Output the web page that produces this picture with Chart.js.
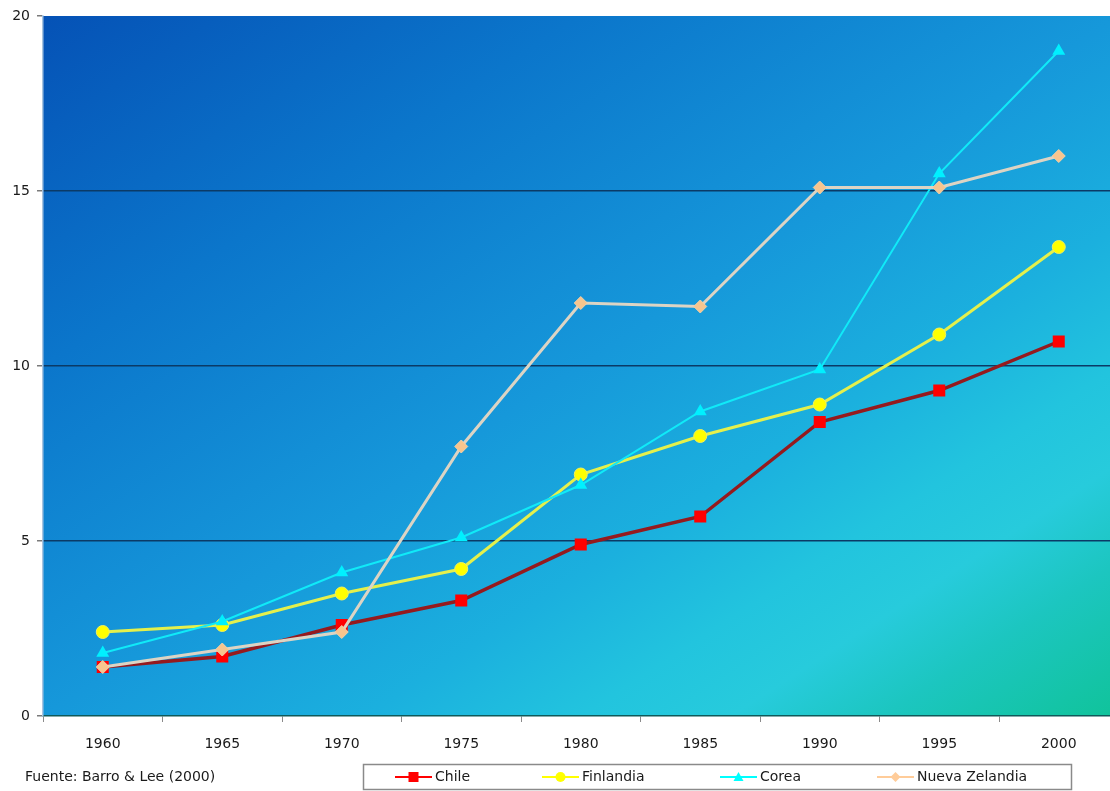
<!DOCTYPE html>
<html>
<head>
<meta charset="utf-8">
<script src="https://cdn.jsdelivr.net/npm/chart.js@4.4.1/dist/chart.umd.min.js"></script>
<style>
  html, body { margin: 0; padding: 0; background: #ffffff; overflow: hidden; }
  #wrap { width: 1127px; height: 791px; position: relative; }
  canvas { display: block; }
</style>
</head>
<body>
<div id="wrap"><canvas id="chart" width="1127" height="791" style="width:1127px;height:791px"></canvas></div>
<script>
// Census years on the horizontal axis
const categories = ['1960', '1965', '1970', '1975', '1980', '1985', '1990', '1995', '2000'];

// Series values per country
const chile = [1.4, 1.7, 2.6, 3.3, 4.9, 5.7, 8.4, 9.3, 10.7];
const finlandia = [2.4, 2.6, 3.5, 4.2, 6.9, 8.0, 8.9, 10.9, 13.4];
const corea = [1.8, 2.7, 4.1, 5.1, 6.6, 8.7, 9.9, 15.5, 19.0];
const nuevaZelandia = [1.4, 1.9, 2.4, 7.7, 11.8, 11.7, 15.1, 15.1, 16.0];

// Value-axis ticks
const yTicks = [0, 5, 10, 15, 20];

const sourceNote = 'Fuente: Barro & Lee (2000)';
const FONT = '"DejaVu Sans", "Liberation Sans", Arial, sans-serif';

// Gradient fill behind the plot area; colour bands run parallel to the
// bottom-left / top-right diagonal
const plotBackground = {
  id: 'plotBackground',
  beforeDraw(chart) {
    const { ctx, chartArea: a } = chart;
    ctx.save();
    ctx.fillStyle = '#ffffff';
    ctx.fillRect(0, 0, chart.width, chart.height);
    const w = a.right - a.left, h = a.bottom - a.top;
    const k = 2 * w * h / (w * w + h * h);
    const g = ctx.createLinearGradient(a.left, a.top, a.left + h * k, a.top + w * k);
    g.addColorStop(0.00, '#0552b6');
    g.addColorStop(0.25, '#0b76cb');
    g.addColorStop(0.50, '#1698da');
    g.addColorStop(0.65, '#1bb0de');
    g.addColorStop(0.75, '#22c4de');
    g.addColorStop(0.82, '#27cbdc');
    g.addColorStop(0.89, '#1cc6c0');
    g.addColorStop(1.00, '#10c39a');
    ctx.fillStyle = g;
    ctx.fillRect(a.left, a.top, w, h);
    ctx.restore();
  }
};

function drawMarker(ctx, style, x, y, color) {
  ctx.fillStyle = color;
  ctx.beginPath();
  if (style === 'rect') {
    ctx.rect(x - 5, y - 5, 10, 10);
  } else if (style === 'circle') {
    ctx.arc(x, y, 5, 0, Math.PI * 2);
  } else if (style === 'triangle') {
    ctx.moveTo(x, y - 5);
    ctx.lineTo(x + 5, y + 4);
    ctx.lineTo(x - 5, y + 4);
    ctx.closePath();
  } else if (style === 'rectRot') {
    ctx.moveTo(x, y - 5);
    ctx.lineTo(x + 5, y);
    ctx.lineTo(x, y + 5);
    ctx.lineTo(x - 5, y);
    ctx.closePath();
  }
  ctx.fill();
}

// Boxed legend and source note under the axis
const legendBox = {
  id: 'legendBox',
  afterDraw(chart) {
    const { ctx } = chart;
    ctx.save();
    ctx.font = '14px ' + FONT;
    ctx.textBaseline = 'middle';
    ctx.fillStyle = '#1a1a1a';
    ctx.fillText(sourceNote, 25, 777);

    ctx.strokeStyle = '#8a8a8a';
    ctx.lineWidth = 1.5;
    ctx.strokeRect(363.5, 764.5, 708, 25);

    const items = [
      { label: 'Chile', color: '#ff0000', style: 'rect', x: 395 },
      { label: 'Finlandia', color: '#ffff00', style: 'circle', x: 542 },
      { label: 'Corea', color: '#00ffff', style: 'triangle', x: 720 },
      { label: 'Nueva Zelandia', color: '#ffcc99', style: 'rectRot', x: 877 }
    ];
    const y = 777;
    items.forEach(it => {
      ctx.strokeStyle = it.color;
      ctx.lineWidth = 2;
      ctx.beginPath();
      ctx.moveTo(it.x, y);
      ctx.lineTo(it.x + 37, y);
      ctx.stroke();
      drawMarker(ctx, it.style, it.x + 18.5, y, it.color);
      ctx.fillStyle = '#1a1a1a';
      ctx.fillText(it.label, it.x + 40, y);
    });
    ctx.restore();
  }
};

const datasets = [
  {
    label: 'Chile', data: chile, order: 4,
    borderColor: '#951a1e', borderWidth: 3.5,
    pointStyle: 'rect', pointRadius: 8.5,
    pointBackgroundColor: '#ff0000', pointBorderColor: '#ff0000', pointBorderWidth: 0
  },
  {
    label: 'Finlandia', data: finlandia, order: 3,
    borderColor: '#e4f04c', borderWidth: 3,
    pointStyle: 'circle', pointRadius: 6.5,
    pointBackgroundColor: '#ffff00', pointBorderColor: '#f0f060', pointBorderWidth: 1
  },
  {
    label: 'Corea', data: corea, order: 2,
    borderColor: '#10eaf8', borderWidth: 2,
    pointStyle: 'triangle', pointRadius: 7.5,
    pointBackgroundColor: '#00f0ff', pointBorderColor: '#00f0ff', pointBorderWidth: 0
  },
  {
    label: 'Nueva Zelandia', data: nuevaZelandia, order: 1,
    borderColor: '#dcd4c4', borderWidth: 3,
    pointStyle: 'rectRot', pointRadius: 6.5,
    pointBackgroundColor: '#f7c58e', pointBorderColor: '#f0d0a8', pointBorderWidth: 1
  }
];

new Chart(document.getElementById('chart'), {
  type: 'line',
  data: { labels: categories, datasets },
  plugins: [plotBackground, legendBox],
  options: {
    responsive: false,
    animation: false,
    devicePixelRatio: 1,
    layout: { padding: { top: 16, right: 0, bottom: 35, left: 0 } },
    plugins: { legend: { display: false }, tooltip: { enabled: false } },
    elements: { line: { tension: 0 } },
    scales: {
      x: {
        offset: true,
        grid: {
          offset: true, drawOnChartArea: false, drawTicks: true,
          tickLength: 6, tickColor: '#8a8a8a'
        },
        border: { display: true, color: '#0f5a5a', width: 1.5 },
        ticks: { color: '#1a1a1a', font: { family: FONT, size: 14 }, padding: 14, maxRotation: 0, autoSkip: false },
        afterFit(scale) { scale.height = 40; }
      },
      y: {
        min: 0, max: 20,
        afterBuildTicks(scale) { scale.ticks = yTicks.map(v => ({ value: v })); },
        grid: {
          color: ctx => (ctx.tick && ctx.tick.value > 0 && ctx.tick.value < 20) ? '#0b3a66' : 'rgba(0,0,0,0)',
          lineWidth: 1.5,
          drawTicks: true, tickLength: 6, tickColor: '#7a7a7a'
        },
        border: { display: true, color: '#a8c4e0', width: 1.5 },
        ticks: { color: '#1a1a1a', font: { family: FONT, size: 14 }, padding: 7 },
        afterFit(scale) { scale.width = 43; }
      }
    }
  }
});
</script>
</body>
</html>
